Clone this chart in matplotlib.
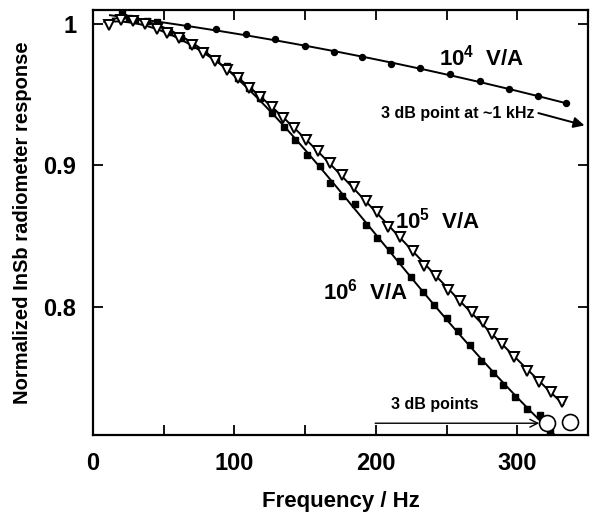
import numpy as np
import matplotlib
matplotlib.use("Agg")
import matplotlib.pyplot as plt

plt.rcParams['font.family'] = ['Liberation Sans', 'DejaVu Sans']
plt.rcParams['font.weight'] = 'bold'
plt.rcParams['axes.labelweight'] = 'bold'
plt.rcParams['mathtext.fontset'] = 'custom'
plt.rcParams['mathtext.rm'] = 'Liberation Sans:bold'
plt.rcParams['mathtext.bf'] = 'Liberation Sans:bold'
plt.rcParams['mathtext.default'] = 'bf'

# ---- data ----
f_1e4 = [45.5, 66.7, 87.0, 108.3, 128.8, 150.0, 170.5, 190.5, 210.9, 231.4,
         252.1, 273.8, 294.3, 314.6, 334.5]
r_1e4 = [1.0006, 0.9982, 0.9959, 0.9924, 0.9889, 0.9843, 0.9797, 0.9762, 0.9714,
         0.9684, 0.9642, 0.9594, 0.9536, 0.9489, 0.9437]

f_1e5 = [11.5, 19.6, 28.5, 37.0, 45.1, 52.6, 60.9, 69.8, 78.0, 86.3, 94.6, 102.6,
         110.4, 118.4, 126.3, 134.4, 142.2, 150.4, 158.8, 167.3, 175.8, 184.2,
         192.8, 201.0, 208.9, 217.4, 226.2, 234.1, 242.7, 250.7, 259.2, 267.7,
         275.7, 282.3, 289.2, 297.9, 306.9, 315.4, 324.1, 331.6]
r_1e5 = [0.9989, 1.0025, 1.0020, 0.9996, 0.9959, 0.9931, 0.9896, 0.9848, 0.9792,
         0.9738, 0.9672, 0.9616, 0.9549, 0.9482, 0.9411, 0.9334, 0.9263, 0.9182,
         0.9101, 0.9020, 0.8935, 0.8849, 0.8752, 0.8673, 0.8565, 0.8496, 0.8396,
         0.8293, 0.8219, 0.8124, 0.8043, 0.7965, 0.7895, 0.7814, 0.7743, 0.7648,
         0.7551, 0.7474, 0.7401, 0.7331]

f_1e6 = [20.3, 25.7, 29.7, 38.0, 45.5, 53.8, 61.9, 70.0, 78.5, 86.7, 94.8, 102.6,
         110.4, 118.2, 126.4, 134.9, 142.9, 151.4, 160.6, 167.7, 176.0, 185.0,
         193.2, 201.0, 209.7, 217.2, 224.8, 233.1, 241.3, 250.3, 258.1, 266.4,
         274.3, 282.7, 290.1, 298.2, 306.6, 315.9, 323.2]
r_1e6 = [1.0074, 1.0037, 1.0025, 1.0021, 1.0011, 0.9940, 0.9898, 0.9848, 0.9806,
         0.9750, 0.9700, 0.9616, 0.9545, 0.9473, 0.9369, 0.9270, 0.9182, 0.9073,
         0.8993, 0.8873, 0.8787, 0.8729, 0.8579, 0.8487, 0.8403, 0.8325, 0.8217,
         0.8109, 0.8015, 0.7925, 0.7836, 0.7733, 0.7622, 0.7537, 0.7454, 0.7368,
         0.7286, 0.7243, 0.7121]

f_3db = [321.2, 337.5]
r_3db = [0.7183, 0.7190]

x_ticks = [0, 100, 200, 300]
y_ticks = [0.8, 0.9, 1.0]
y_ticklabels = ['0.8', '0.9', '1']

fig = plt.figure(figsize=(5.9, 5.15), dpi=100)
ax = fig.add_axes([93/590, 1 - 435/515, (588-93)/590, (435-9.5)/515])
ax.set_xlim(0, 350)
ax.set_ylim(0.710, 1.0099)

# fitted curves through each series
def fit_line(fx, fy, deg, x0, x1):
    c = np.polyfit(fx, fy, deg)
    xx = np.linspace(x0, x1, 300)
    return xx, np.polyval(c, xx)

xx, yy = fit_line(f_1e4, r_1e4, 2, 12, f_1e4[-1])
ax.plot(xx, yy, color='black', lw=1.4, zorder=2)
xx, yy = fit_line(f_1e5, r_1e5, 4, 8, f_1e5[-1] + 1)
ax.plot(xx, yy, color='black', lw=1.4, zorder=2)
xx, yy = fit_line(f_1e6[4:], r_1e6[4:], 4, 14, 330)
ax.plot(xx, yy, color='black', lw=1.4, zorder=2)

ax.plot(f_1e4, r_1e4, 'o', color='black', ms=4.3, zorder=3)
ax.plot(f_1e6, r_1e6, 's', color='black', ms=4.5, zorder=3)
ax.plot(f_1e5, r_1e5, 'v', mfc='white', mec='black', mew=1.4, ms=6.5, zorder=4)
ax.plot(f_3db, r_3db, 'o', mfc='white', mec='black', mew=1.2, ms=11.5, zorder=5,
        clip_on=False)

# annotations
ax.text(275, 0.9757, '10$^{4}$  V/A', fontsize=16, ha='center', va='center')
ax.text(243.3, 0.8614, '10$^{5}$  V/A', fontsize=16, ha='center', va='center')
ax.text(192.5, 0.8109, '10$^{6}$  V/A', fontsize=16, ha='center', va='center')
ax.text(312, 0.9369, '3 dB point at ~1 kHz', fontsize=11.5, ha='right', va='center')
ax.annotate('', xy=(347.5, 0.9282), xytext=(314.9, 0.9369),
            arrowprops=dict(arrowstyle='-|>', color='black', lw=1.4,
                            mutation_scale=16, shrinkA=0, shrinkB=0),
            annotation_clip=False)
ax.text(241.3, 0.7317, '3 dB points', fontsize=11.5, ha='center', va='center')
ax.annotate('', xy=(315.5, 0.7183), xytext=(199.5, 0.7183),
            arrowprops=dict(arrowstyle='->', color='black', lw=1.0,
                            mutation_scale=14, shrinkA=0, shrinkB=0))

ax.set_xticks(x_ticks)
ax.set_xticks(np.arange(0, 351, 50), minor=True)
ax.set_yticks(y_ticks)
ax.set_yticklabels(y_ticklabels)
ax.tick_params(which='both', direction='in', top=True, right=True,
               width=1.3, labelsize=17)
ax.tick_params(which='major', length=7, pad=12)
ax.tick_params(which='minor', length=7)
for s in ax.spines.values():
    s.set_linewidth(1.6)

ax.set_xlabel('Frequency / Hz', fontsize=16, labelpad=12)
ax.set_ylabel('Normalized InSb radiometer response', fontsize=14.5, labelpad=8)

fig.savefig('out.png', dpi=100)
